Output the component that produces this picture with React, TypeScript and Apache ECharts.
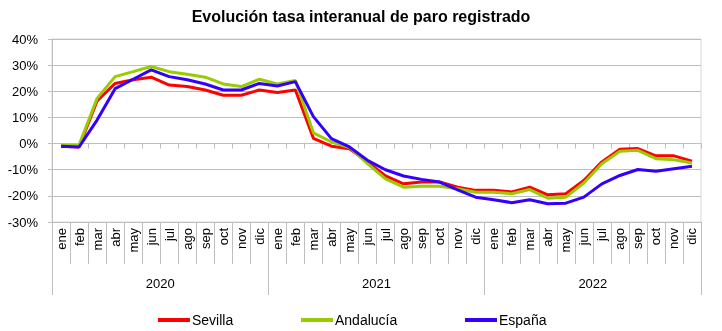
import React, { useEffect, useRef } from "react";
import * as echarts from "echarts";

const months = ["ene","feb","mar","abr","may","jun","jul","ago","sep","oct","nov","dic",
  "ene","feb","mar","abr","may","jun","jul","ago","sep","oct","nov","dic",
  "ene","feb","mar","abr","may","jun","jul","ago","sep","oct","nov","dic"];
const years = ["2020", "2021", "2022"];

const sevilla = [-1, -1.3, 16.3, 23, 24.4, 25.4, 22.4, 21.8, 20.5, 18.5, 18.5, 20.5,
  19.5, 20.5, 2, -1, -2, -7, -12.4, -15.4, -14.7, -14.7, -16.7, -17.9,
  -17.9, -18.5, -16.7, -19.6, -19.2, -14.1, -7, -2.2, -1.9, -4.7, -4.7, -6.7];
const andalucia = [-0.5, -0.6, 17.3, 25.6, 27.5, 29.5, 27.5, 26.5, 25.4, 22.8, 21.8, 24.6,
  22.8, 24.1, 4.1, 0.6, -1.5, -7.7, -13.5, -16.7, -16.3, -16.3, -17.3, -18.6,
  -18.6, -19.2, -17.6, -20.9, -20.5, -15.1, -7.7, -2.9, -2.6, -5.8, -6.2, -7.4];
const espana = [-1, -1.3, 9, 21, 24.6, 28.2, 25.6, 24.4, 22.8, 20.5, 20.5, 23,
  22, 23.7, 10.3, 1.9, -1.3, -6.4, -10, -12.4, -13.7, -14.7, -17.7, -20.5,
  -21.5, -22.6, -21.5, -23, -22.8, -20.5, -15.4, -12.2, -9.9, -10.6, -9.6, -8.7];

const seriesNames = ["Sevilla", "Andalucía", "España"];
const seriesColors = ["#FF0000", "#99CC00", "#3300FF"];

const FONT = "'Liberation Sans', Arial, sans-serif";
const GRID_COLOR = "#BFBFBF";

export default function App() {
  const ref = useRef<HTMLDivElement>(null);
  useEffect(() => {
    if (!ref.current) return;
    const chart = echarts.init(ref.current, null, { renderer: "svg" });
    const gridPos = { left: 52, right: 21, top: 39, bottom: 109 };
    const yBase = { min: -30, max: 40, interval: 10, type: "value" as const };
    const data = [sevilla, andalucia, espana];
    chart.setOption({
      animation: false,
      textStyle: { fontFamily: FONT },
      title: {
        text: "Evolución tasa interanual de paro registrado",
        left: "center",
        top: 3,
        textStyle: { fontSize: 16, fontWeight: "bold", color: "#000", fontFamily: FONT },
      },
      grid: [
        { ...gridPos, show: true, borderColor: "#D9D9D9", borderWidth: 1 },
        { ...gridPos },
        { ...gridPos },
      ],
      xAxis: [
        {
          type: "category", gridIndex: 0, data: months, boundaryGap: true, position: "bottom",
          axisLine: { show: true, onZero: false, lineStyle: { color: GRID_COLOR } },
          axisTick: { show: true, interval: 0, length: 42, lineStyle: { color: GRID_COLOR } },
          axisLabel: { interval: 0, rotate: 90, margin: 6, fontSize: 13, color: "#000", fontFamily: FONT },
        },
        {
          type: "category", gridIndex: 1, data: years, boundaryGap: true, position: "bottom",
          axisLine: { show: false, onZero: false },
          axisTick: { show: true, interval: 0, length: 73, lineStyle: { color: GRID_COLOR } },
          axisLabel: { interval: 0, margin: 55, fontSize: 13, color: "#000", fontFamily: FONT },
        },
        {
          type: "category", gridIndex: 2, data: months, boundaryGap: true, position: "bottom",
          axisLine: { show: true, onZero: true, lineStyle: { color: GRID_COLOR } },
          axisTick: { show: true, interval: 0, length: 5, lineStyle: { color: GRID_COLOR } },
          axisLabel: { show: false },
        },
      ],
      yAxis: [
        {
          ...yBase, gridIndex: 0,
          axisLine: { show: true, lineStyle: { color: GRID_COLOR } },
          axisTick: { show: true, length: 4, lineStyle: { color: GRID_COLOR } },
          splitLine: { show: true, lineStyle: { color: GRID_COLOR, width: 1 } },
          axisLabel: { formatter: "{value}%", fontSize: 13, color: "#000", margin: 14, fontFamily: FONT },
        },
        { ...yBase, gridIndex: 1, show: false },
        { ...yBase, gridIndex: 2, show: false, splitLine: { show: false } },
      ],
      legend: [
        { data: [seriesNames[0]], left: 153 },
        { data: [seriesNames[1]], left: 296 },
        { data: [seriesNames[2]], left: 460 },
      ].map((l) => ({
        ...l,
        top: 308,
        icon: "rect",
        itemWidth: 32,
        itemHeight: 4,
        textStyle: { fontSize: 14, color: "#000", fontFamily: FONT, padding: [0, 0, 0, -3] },
      })),
      series: seriesNames.map((name, i) => ({
        name,
        type: "line",
        xAxisIndex: 0,
        yAxisIndex: 0,
        data: data[i],
        symbol: "none",
        color: seriesColors[i],
        lineStyle: { width: 3, color: seriesColors[i] },
      })),
    });
    return () => chart.dispose();
  }, []);
  return (
    <div
      ref={ref}
      style={{ position: "fixed", left: 0, top: 0, width: 722, height: 331 }}
    />
  );
}
